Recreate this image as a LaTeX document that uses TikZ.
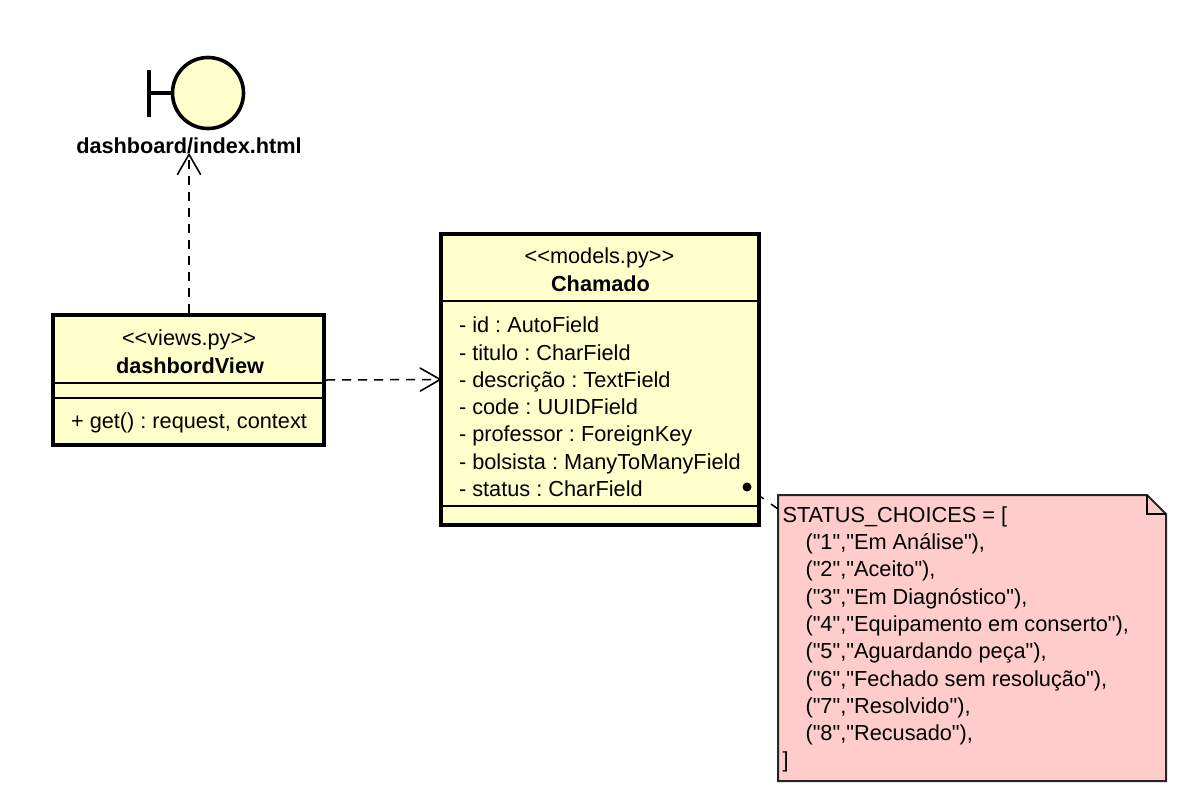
\documentclass[tikz,border=0pt]{standalone}
\usepackage{fontspec}
\setmainfont[Ligatures=TeXOff]{Liberation Sans}
\usetikzlibrary{arrows.meta}
\definecolor{umlfill}{HTML}{FFFFCC}
\definecolor{notefill}{HTML}{FFCCCC}
\tikzset{
  x=1pt,y=-1pt,
  every node/.style={inner sep=0pt,outer sep=0pt,text=black},
  classbox/.style={draw=black,fill=umlfill,line width=4pt,anchor=center,outer sep=2pt},
  divider/.style={draw=black,line width=1.3pt},
  dep/.style={draw=black,line width=1.5pt,dash pattern=on 9pt off 7pt,
    -{Straight Barb[length=20pt,width=23pt,line width=1.6pt,round]}},
  umltext/.style={font=\fontsize{21.7}{27.2}\selectfont},
  umlbold/.style={font=\fontsize{21.7}{27.2}\selectfont\bfseries},
  lines/.style={font=\fontsize{21.75}{27.3}\selectfont,align=left,anchor=north west},
}
\begin{document}
\frenchspacing
\begin{tikzpicture}
\useasboundingbox (0,0) rectangle (1185,795);
% boundary
\node[circle,draw=black,fill=umlfill,line width=3.6pt,minimum size=71pt,outer sep=1.8pt] (bnd) at (208,93) {};
\coordinate (barTop) at (149,70);
\coordinate (barBot) at (149,117);
\coordinate (barMid) at (149,93);
\draw[black,line width=3.4pt] (barTop) -- (barBot);
\draw[black,line width=3.2pt] (barMid) -- (bnd.west);
\node[umlbold,anchor=center] (bndlabel) at (189,145.5) {dashboard/index.html};
% view class
\node[classbox,minimum width=271pt,minimum height=130pt] (view) at (188.5,380) {};
\node[umltext,anchor=center] (viewst) at (189,340) {<{}<views.py>{}>};
\node[umlbold,anchor=center] (viewname) at (190,366) {dashbordView};
\node[umltext,anchor=center] (viewop) at (189,423) {+ get() : request, context};
\draw[divider] (view.west |- 0,383) -- (view.east |- 0,383);
\draw[divider] (view.west |- 0,398) -- (view.east |- 0,398);
% Chamado class
\node[classbox,minimum width=318pt,minimum height=291pt] (cham) at (600,379.5) {};
\node[umltext,anchor=center] (chamst) at (599.5,258) {<{}<models.py>{}>};
\node[umlbold,anchor=center] (chamname) at (600.5,284) {Chamado};
\draw[divider] (cham.west |- 0,301) -- (cham.east |- 0,301);
\draw[divider] (cham.west |- 0,506) -- (cham.east |- 0,506);
\node[lines] (chamattr) at (459,317) {- id : AutoField\\- titulo : CharField\\- descrição : TextField\\- code : UUIDField\\- professor : ForeignKey\\- bolsista : ManyToManyField\\- status : CharField};
% note
\coordinate (n1) at (778,495);
\coordinate (n2) at (1147,495);
\coordinate (n3) at (1166,514);
\coordinate (n4) at (1166,781);
\coordinate (n5) at (778,781);
\coordinate (n6) at (1147,514);
\coordinate (nattach) at (778,509);
\draw[fill=notefill,draw=black!85,line width=2pt] (n1) -- (n2) -- (n3) -- (n4) -- (n5) -- cycle;
\draw[black,line width=2pt] (n2) -- (n6) -- (n3);
\node[lines] (note) at (782.5,506.5) {STATUS\_CHOICES = [\\\hspace*{23pt}("1","Em Análise"),\\\hspace*{23pt}("2","Aceito"),\\\hspace*{23pt}("3","Em Diagnóstico"),\\\hspace*{23pt}("4","Equipamento em conserto"),\\\hspace*{23pt}("5","Aguardando peça"),\\\hspace*{23pt}("6","Fechado sem resolução"),\\\hspace*{23pt}("7","Resolvido"),\\\hspace*{23pt}("8","Recusado"),\\]};
% connectors
\draw[dep] (view.north -| bndlabel.south) -- (bndlabel.south);
\draw[dep] (view.east) -- ([xshift=2pt]cham.west);
\node[circle,fill=black,minimum size=9pt] (dot) at (747,487) {};
\draw[black,line width=1.5pt,dash pattern=on 8pt off 9pt,dash phase=9pt] (dot) -- (nattach);
\end{tikzpicture}
\end{document}
